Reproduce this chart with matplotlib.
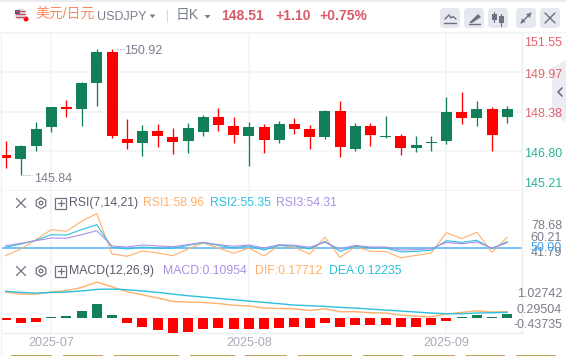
import matplotlib
matplotlib.use("Agg")
import matplotlib.pyplot as plt
from matplotlib.patches import FancyBboxPatch, Polygon, Circle, RegularPolygon, Rectangle
from matplotlib.transforms import ScaledTranslation
import numpy as np

plt.rcParams['font.family'] = ['Liberation Sans', 'Noto Sans CJK SC', 'DejaVu Sans']

W, H = 566, 356

# ---- data ----
opens = [146.65,146.50,147.02,147.79,148.58,148.51,149.55,150.79,147.29,147.11,147.61,147.37,147.19,147.59,148.18,147.81,147.39,147.77,147.23,147.90,147.69,147.35,148.42,146.90,147.81,147.37,147.41,146.94,147.11,147.19,148.38,148.15,148.50,148.19]
closes = [146.54,147.01,147.69,148.58,148.50,149.54,150.79,147.39,147.11,147.61,147.39,147.15,147.73,148.18,147.87,147.43,147.77,147.23,147.90,147.71,147.35,148.42,146.98,147.81,147.43,147.41,146.94,147.05,147.17,148.38,148.15,148.50,147.43,148.51]
highs = [147.21,147.05,147.98,148.59,148.86,149.58,150.89,150.92,148.10,147.86,147.90,147.73,147.94,148.26,148.54,148.18,147.98,147.90,148.02,148.14,147.86,148.46,148.82,147.94,147.94,148.22,147.49,147.41,147.41,148.98,149.18,148.82,148.58,148.62]
lows = [146.14,145.84,146.82,147.55,148.19,147.83,148.63,147.31,146.90,146.62,146.98,146.70,146.74,147.39,147.63,147.11,146.22,146.74,147.11,147.47,146.90,147.27,146.58,146.82,147.02,147.31,146.66,146.78,146.82,147.07,147.91,147.83,146.82,147.95]

rsi1 = [43.6,49.2,56.9,65.3,63.9,72.2,78.68,45.0,43.1,47.5,45.8,43.6,49.2,54.2,50.0,45.6,50.0,43.3,52.2,50.6,45.0,58.96,42.2,51.4,47.2,47.2,41.79,43.9,45.8,62.8,57.8,63.1,46.4,58.96]
rsi2 = [50.6,53.3,56.4,61.1,60.8,65.3,69.4,50.6,49.2,50.8,50.0,49.7,52.2,54.4,52.2,50.0,51.7,48.3,52.2,51.7,49.2,55.6,47.2,51.4,50.0,50.0,46.7,47.2,48.1,56.1,54.7,56.4,49.4,55.35]
rsi3 = [51.9,53.9,56.1,58.3,58.1,61.1,64.4,51.7,50.8,52.5,51.7,51.1,52.8,54.7,52.8,51.4,52.5,50.0,52.8,52.2,50.6,54.7,49.2,52.2,50.8,50.8,48.3,48.6,49.4,54.7,53.6,55.0,50.0,54.31]
rsi_mid = 50.0

dif = [.74,.68,.68,.74,.78,.87,1.027,.89,.75,.66,.57,.47,.45,.44,.41,.36,.34,.28,.27,.26,.21,.26,.175,.175,.147,.137,.08,.05,.03,.11,.156,.20,.166,.177]
dea = [.76,.73,.71,.73,.74,.77,.816,.826,.807,.77,.73,.68,.634,.596,.558,.52,.48,.443,.405,.366,.347,.328,.30,.28,.25,.223,.194,.166,.137,.118,.118,.137,.146,.156]
hist = [-.05,-.14,-.11,.025,.05,.20,.40,.09,-.14,-.26,-.34,-.43,-.40,-.31,-.29,-.33,-.31,-.31,-.29,-.26,-.29,-.14,-.25,-.20,-.20,-.20,-.26,-.25,-.22,-.09,.02,.09,.02,.1095]

date_idx = [3, 16, 29]
date_labels = ['2025-07', '2025-08', '2025-09']
price_ticks = [151.55, 149.97, 148.38, 146.80, 145.21]

# ---- styles ----
RED, GREEN = '#ff0000', '#117f57'
GRID = '#f3f4f8'
BORDER = '#eceef3'
ORANGE, CYAN, PURPLE, BLUE = '#ffb06a', '#2cc0dc', '#ab90e6', '#5ab4f2'
AXGRAY = '#7b7e8c'

fig = plt.figure(figsize=(W/100, H/100), dpi=100, facecolor='white')

def make_ax(left, top, right, bottom):
    return fig.add_axes([left/W, 1-bottom/H, (right-left)/W, (bottom-top)/H])

# collapse tab sits behind every axis label
bg = fig.add_axes([0, 0, 1, 1], zorder=-1)
bg.set_xlim(0, W); bg.set_ylim(H, 0); bg.axis('off')
bg.add_patch(Polygon([[566, 60], [552, 68], [552, 113], [566, 122]], color='#ecedf3', lw=0))

LEFT, RIGHT = 1.5, 521.7
ax = make_ax(LEFT, 33, RIGHT, 190.7)
ax_r = make_ax(LEFT, 191.3, RIGHT, 260.3)
ax_m = make_ax(LEFT, 260.3, RIGHT, 333)

x = np.arange(len(opens))
xlim = ((LEFT-5.6)/15.2, (RIGHT-5.6)/15.2)
for a in (ax, ax_r, ax_m):
    a.set_xlim(*xlim)
    a.set_facecolor('white')
    a.set_xticks(date_idx)
    a.tick_params(length=0)
    a.grid(True, axis='x', color=GRID, lw=1.3, zorder=0)
    a.set_axisbelow(True)
    for s in a.spines.values():
        s.set_visible(False)
    a.spines['bottom'].set_visible(True)
    a.spines['bottom'].set_color(BORDER)
    a.spines['bottom'].set_linewidth(1)
    a.spines['right'].set_visible(True)
    a.spines['right'].set_color(BORDER)
    a.spines['right'].set_linewidth(1)

# candles
ax.set_ylim(145.21, 151.55)
colors = [GREEN if c >= o else RED for o, c in zip(opens, closes)]
ax.vlines(x, lows, highs, colors=colors, lw=0.95, zorder=3)
ax.bar(x, np.abs(np.array(closes)-np.array(opens)), bottom=np.minimum(opens, closes),
       width=11/15.2, color=colors, lw=0, zorder=4)
ax.set_yticks(price_ticks)
ax.set_yticklabels([f'{p:.2f}' for p in price_ticks], fontsize=9)
ax.yaxis.tick_right()
ax.tick_params(axis='y', pad=1.8, length=0)
ax.set_xticklabels([])
ax.grid(True, axis='y', color=GRID, lw=1.3, zorder=0)
for lbl, col, shift in zip(ax.get_yticklabels(),
                           ['#e0636f', '#e0636f', '#e0636f', '#2bb596', '#2bb596'],
                           [-9.5, -2.2, -2.5, -3, 7]):
    lbl.set_color(col)
    lbl.set_va('center')
    lbl.set_transform(lbl.get_transform() + ScaledTranslation(0, shift/100, fig.dpi_scale_trans))
ymax = max(highs); ymin = min(lows)
ax.annotate(f'{ymax:.2f}', xy=(7, ymax), xytext=(124-5.6-7*15.2, -2), textcoords='offset pixels',
            fontsize=9, color=AXGRAY, va='center', ha='left', zorder=6)
ax.annotate(f'{ymin:.2f}', xy=(1, ymin), xytext=(34-5.6-15.2, -4), textcoords='offset pixels',
            fontsize=9, color=AXGRAY, va='center', ha='left', zorder=6)
ax.plot([7.35, 7.95], [ymax, ymax], color=AXGRAY, lw=0.7, ls=(0, (1, 2)))
ax.plot([1.15, 1.75], [ymin, ymin], color=AXGRAY, lw=0.7, ls=(0, (1, 2)))

# RSI
ax_r.set_ylim(39.75, 97.25)
ax_r.set_yticks([])
ax_r.set_xticklabels([])
ax_r.axhline(rsi_mid, color=BLUE, lw=1.15, zorder=2)
ax_r.plot(x, rsi1, color=ORANGE, lw=0.8, zorder=3)
ax_r.plot(x, rsi2, color=CYAN, lw=0.8, zorder=3)
ax_r.plot(x, rsi3, color=PURPLE, lw=0.8, zorder=3)

# MACD
ax_m.set_ylim(-0.436, 1.651)
ax_m.set_yticks([])
ax_m.set_xticklabels(date_labels, fontsize=9, color='#a9abb8')
ax_m.tick_params(axis='x', pad=3)
ax_m.bar(x, hist, width=10/15.2, color=[GREEN if h > 0 else RED for h in hist], lw=0, zorder=3)
ax_m.plot(x, dif, color=ORANGE, lw=1.0, zorder=4)
ax_m.plot(x, dea, color=CYAN, lw=1.0, zorder=4)

# ---- overlay in pixel coordinates for the page furniture ----
ov = fig.add_axes([0, 0, 1, 1], zorder=10)
ov.set_xlim(0, W); ov.set_ylim(H, 0); ov.axis('off'); ov.patch.set_alpha(0)

def T(px, py, s, color, size=9, weight='normal', ha='left'):
    ov.text(px, py, s, color=color, fontsize=size, fontweight=weight, ha=ha, va='center')

def L(xs, ys, color='#6d7080', lw=1.0):
    ov.plot(xs, ys, color=color, lw=lw, solid_capstyle='round')

ov.add_patch(Rectangle((0, 0), W, 2, color='#e9ecf1', lw=0))
L([0, W], [32.3, 32.3], '#f2f3f6', 1)
L([1, 1], [32, 356], '#eff1f5', 1)

# flag
ov.add_patch(Circle((20, 14), 5.5, color='#dfe3ea', lw=0))
for yy in [10.5, 13.5, 16.5]:
    L([15.5, 24.5], [yy, yy], '#c9556a', 1)
ov.add_patch(Rectangle((15, 9.5), 5, 4, color='#4a5a88', lw=0))
ov.add_patch(Circle((26, 19), 2.5, color='#ff0000', lw=0))

# header
T(35, 15, '美元/日元', '#fb8a62', 10)
T(97, 16.5, 'USDJPY', AXGRAY, 9)
ov.add_patch(Polygon([[149.5, 14.5], [155.5, 14.5], [152.5, 18]], color=AXGRAY, lw=0))
L([166.5, 166.5], [10, 22], '#d6d8de', 0.8)
T(176, 15, '日K', AXGRAY, 10)
ov.add_patch(Polygon([[204.5, 15], [210.5, 15], [207.5, 18.5]], color=AXGRAY, lw=0))
T(221, 15.5, '148.51', '#d95a68', 10, 'bold')
T(275, 15.5, '+1.10', '#d95a68', 10, 'bold')
T(319, 15.5, '+0.75%', '#d95a68', 10, 'bold')

# toolbar buttons
for bx in [440, 464, 488, 516, 540]:
    ov.add_patch(FancyBboxPatch((bx+3, 11), 14, 14, boxstyle='round,pad=3,rounding_size=4',
                                fc='#e6e8ef', ec='none'))
L([444, 456], [22.5, 22.5], '#6d7080', 1)
L([445, 449, 451, 453, 456], [19, 15, 18, 16.5, 19], '#6d7080', 1)
ov.add_patch(Polygon([[469, 23], [478, 14], [481, 17], [472, 23]], color='#6d7080', lw=0))
L([469, 480], [23.5, 23.5], '#6d7080', 1)
for cx, y0, y1, w0, w1 in [(494, 12, 22, 14, 20), (501, 14, 26, 16, 23)]:
    L([cx, cx], [y0, y1], '#6d7080', 0.8)
    ov.add_patch(Rectangle((cx-2.5, w0), 5, w1-w0, color='#6d7080', lw=0))
L([521, 531], [23, 13], '#6d7080', 1)
ov.add_patch(Polygon([[526, 14], [531, 13], [530, 18]], color='#6d7080', lw=0))
ov.add_patch(Polygon([[521, 23], [522, 18.5], [525.5, 22]], color='#6d7080', lw=0))
L([545, 555], [13, 23], '#6d7080', 1)
L([555, 545], [13, 23], '#6d7080', 1)

# collapse chevron
L([562, 558, 562], [88, 92, 96], '#6d7080', 1.2)

# indicator headers
def head(py, name, parts):
    L([16.5, 25.5], [py-4.5, py+4.5], '#6d7080', 0.9)
    L([25.5, 16.5], [py-4.5, py+4.5], '#6d7080', 0.9)
    ov.add_patch(RegularPolygon((41, py), 6, radius=5.5, fill=False, ec='#6d7080', lw=0.9))
    ov.add_patch(Circle((41, py), 1.8, fill=False, ec='#6d7080', lw=0.9))
    ov.add_patch(Rectangle((55, py-5.5), 11, 11, fill=False, ec='#6d7080', lw=0.9))
    L([57.5, 63.5], [py, py], '#6d7080', 0.9)
    L([60.5, 60.5], [py-3, py+3], '#6d7080', 0.9)
    T(69, py, name, '#5a5d6b', 8.8)
    for px, s, col in parts:
        T(px, py, s, col, 8.8)

head(203, 'RSI(7,14,21)', [(143, 'RSI1:58.96', ORANGE), (210, 'RSI2:55.35', CYAN), (276, 'RSI3:54.31', PURPLE)])
head(271, 'MACD(12,26,9)', [(163, 'MACD:0.10954', PURPLE), (255, 'DIF:0.17712', ORANGE), (329, 'DEA:0.12235', CYAN)])

# indicator axis labels
for py, s, col in [(225.7, '78.68', AXGRAY), (238, '60.21', AXGRAY), (253, '41.79', AXGRAY), (248, '50.00', '#3f9df0'),
                   (293.7, '1.02742', AXGRAY), (309.7, '0.29504', AXGRAY), (324.7, '-0.43735', AXGRAY)]:
    T(562, py, s, col, 9, ha='right')

# strip of tags cut off at the bottom edge
for x0, x1 in [(11, 52), (63, 103), (114, 179), (190, 235), (245, 287), (298, 352), (363, 403), (413, 455), (466, 505), (516, 556)]:
    ov.add_patch(Rectangle((x0, 355), x1-x0, 1, color='#c9a15f', lw=0))

fig.savefig('out.png', dpi=100)
